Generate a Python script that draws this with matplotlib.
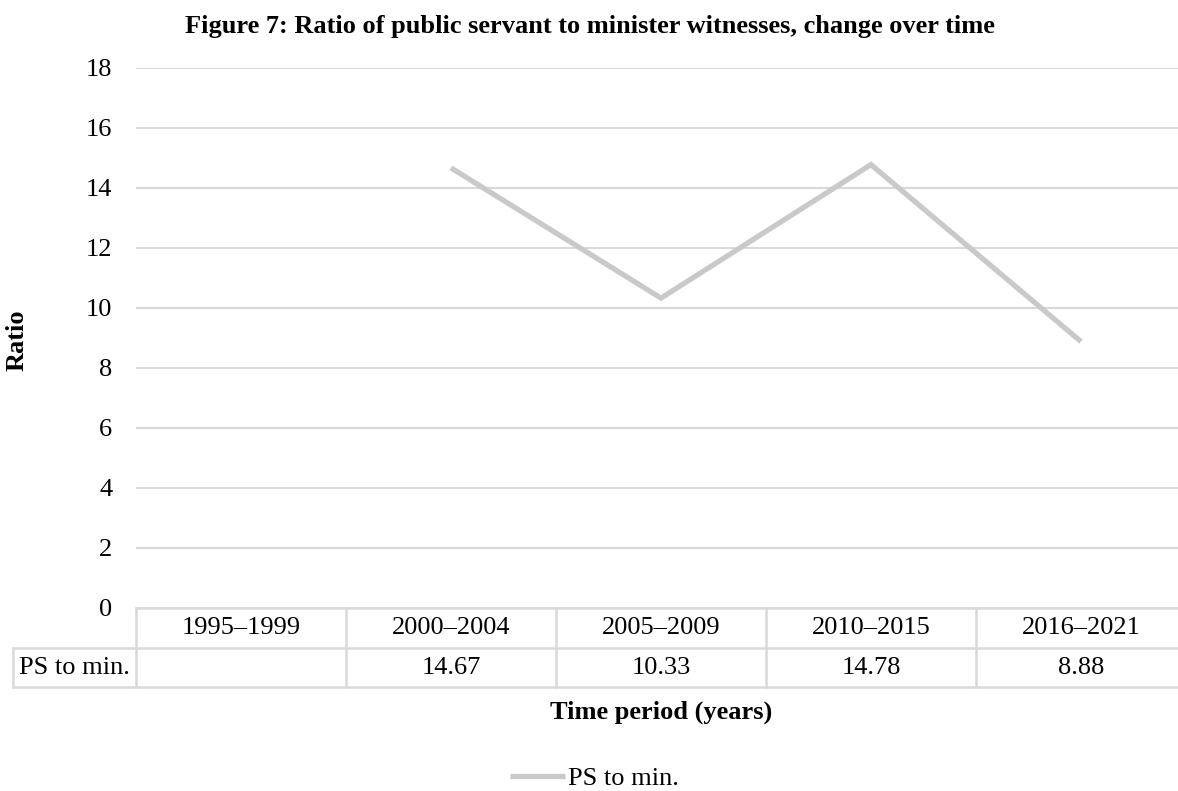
import numpy as np
import matplotlib
matplotlib.use("Agg")
import matplotlib.pyplot as plt
from matplotlib.transforms import blended_transform_factory

plt.rcParams['font.family'] = ['Liberation Serif', 'DejaVu Serif']

categories = ["1995–1999", "2000–2004", "2005–2009", "2010–2015", "2016–2021"]
series_name = "PS to min."
values = [np.nan, 14.67, 10.33, 14.78, 8.88]
value_labels = ["", "14.67", "10.33", "14.78", "8.88"]
yticks = [0, 2, 4, 6, 8, 10, 12, 14, 16, 18]

W, H = 1178, 791
fig = plt.figure(figsize=(W / 100, H / 100), dpi=100)

L, R, T, B = 136, 1186, 68, 608
ax = fig.add_axes([L / W, (H - B) / H, (R - L) / W, (B - T) / H])

FS = 19
grid_c = "#d9d9d9"
line_c = "#c9c9c9"

x = np.arange(len(categories))
ax.plot(x, values, color=line_c, lw=3.8, solid_capstyle='butt', solid_joinstyle='miter',
        label=series_name)
ax.set_xlim(-0.5, len(categories) - 0.5)
ax.set_ylim(0, 18)
ax.set_yticks(yticks)
ax.set_yticklabels([str(t) for t in yticks], fontsize=FS)
ax.tick_params(axis='y', length=0, pad=17)
ax.set_xticks([])
for s in ax.spines.values():
    s.set_visible(False)
ax.grid(axis='y', color=grid_c, lw=1.5)
ax.set_axisbelow(True)

# data table below the axis
tr = blended_transform_factory(ax.transData, ax.transAxes)
def yf(py):
    return (B - py) / (B - T)
y_top, y_mid, y_bot = yf(608), yf(648), yf(687)
x_lab_left = -0.5 + (13 - L) * len(categories) / (R - L)
lw_t = 1.8
ax.plot([-0.5, len(categories) - 0.5], [y_top, y_top], transform=tr, color=grid_c, lw=lw_t, clip_on=False)
ax.plot([x_lab_left, len(categories) - 0.5], [y_mid, y_mid], transform=tr, color=grid_c, lw=lw_t, clip_on=False)
ax.plot([x_lab_left, len(categories) - 0.5], [y_bot, y_bot], transform=tr, color=grid_c, lw=lw_t, clip_on=False)
ax.plot([x_lab_left, x_lab_left], [y_mid, y_bot], transform=tr, color=grid_c, lw=lw_t, clip_on=False)
for i in range(len(categories) + 1):
    xb = i - 0.5
    ax.plot([xb, xb], [y_top, y_bot], transform=tr, color=grid_c, lw=lw_t, clip_on=False)
for i, c in enumerate(categories):
    ax.text(i, (y_top + y_mid) / 2, c, transform=tr, ha='center', va='center', fontsize=FS, clip_on=False)
    ax.text(i, (y_mid + y_bot) / 2, value_labels[i], transform=tr, ha='center', va='center', fontsize=FS, clip_on=False)
ax.text((x_lab_left - 0.5) / 2, (y_mid + y_bot) / 2, series_name, transform=tr, ha='center', va='center', fontsize=FS, clip_on=False)

# axis titles
ax.text(0.5, yf(712), "Time period (years)", transform=ax.transAxes, ha='center', va='center',
        fontsize=FS, fontweight='bold')
fig.text(17 / W, 1 - 340 / H, "Ratio", rotation=90, ha='center', va='center', fontsize=FS, fontweight='bold')
fig.text(590 / W, 1 - 27 / H, "Figure 7: Ratio of public servant to minister witnesses, change over time",
         ha='center', va='center', fontsize=FS, fontweight='bold')

fig.legend(loc='center', bbox_to_anchor=(594 / W, 1 - 778 / H), frameon=False, fontsize=FS,
           handlelength=2.1, handletextpad=0.1)

fig.savefig("out.png", dpi=100)
